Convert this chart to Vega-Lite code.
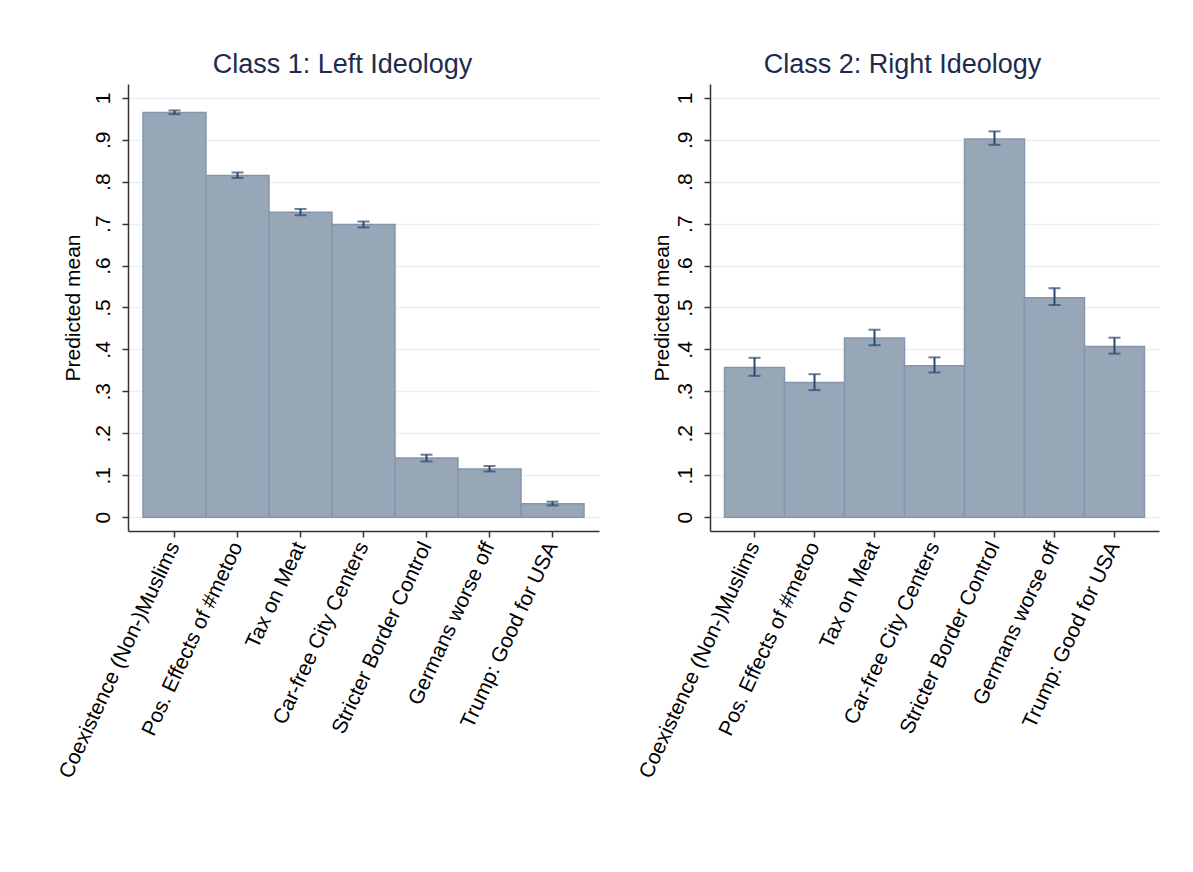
{
  "$schema": "https://vega.github.io/schema/vega-lite/v6.json",
  "background": "white",
  "padding": {"left": 55, "top": 51, "right": 30, "bottom": 20},
  "bounds": "flush",
  "spacing": 111,
  "config": {
    "font": "Liberation Sans",
    "view": {"stroke": null},
    "title": {"fontSize": 27, "fontWeight": "normal", "color": "#1e2b4f", "baseline": "alphabetic", "offset": 5},
    "axisY": {
      "values": [0, 0.1, 0.2, 0.3, 0.4, 0.5, 0.6, 0.7, 0.8, 0.9, 1],
      "labelExpr": "datum.value == 0 ? '0' : datum.value == 1 ? '1' : replace(format(datum.value, '.1f'), '0.', '.')",
      "labelAngle": -90,
      "labelAlign": "center",
      "labelBaseline": "bottom",
      "labelFontSize": 21,
      "labelColor": "#000000",
      "labelPadding": 9,
      "labelOverlap": false,
      "tickSize": 6,
      "tickColor": "#333333",
      "tickWidth": 1.5,
      "domainColor": "#333333",
      "domainWidth": 1.5,
      "grid": true,
      "gridColor": "#eaeff1",
      "gridWidth": 1.5,
      "titleFontSize": 21,
      "titleFontWeight": "normal",
      "titleColor": "#000000"
    },
    "axisX": {
      "title": null,
      "labelAngle": -65,
      "labelFontSize": 21,
      "labelColor": "#000000",
      "labelPadding": 6,
      "labelLimit": 0,
      "labelOverlap": false,
      "tickSize": 6,
      "tickColor": "#333333",
      "tickWidth": 1.5,
      "domainColor": "#333333",
      "domainWidth": 1.5,
      "grid": false
    }
  },
  "datasets": {
    "class1": [
      {"item": "Coexistence (Non-)Muslims", "mean": 0.965, "lo": 0.961, "hi": 0.970},
      {"item": "Pos. Effects of #metoo", "mean": 0.815, "lo": 0.809, "hi": 0.822},
      {"item": "Tax on Meat", "mean": 0.727, "lo": 0.720, "hi": 0.735},
      {"item": "Car-free City Centers", "mean": 0.698, "lo": 0.691, "hi": 0.705},
      {"item": "Stricter Border Control", "mean": 0.141, "lo": 0.133, "hi": 0.149},
      {"item": "Germans worse off", "mean": 0.115, "lo": 0.109, "hi": 0.122},
      {"item": "Trump: Good for USA", "mean": 0.032, "lo": 0.028, "hi": 0.037}
    ],
    "class2": [
      {"item": "Coexistence (Non-)Muslims", "mean": 0.357, "lo": 0.337, "hi": 0.380},
      {"item": "Pos. Effects of #metoo", "mean": 0.321, "lo": 0.303, "hi": 0.341},
      {"item": "Tax on Meat", "mean": 0.427, "lo": 0.410, "hi": 0.447},
      {"item": "Car-free City Centers", "mean": 0.361, "lo": 0.345, "hi": 0.381},
      {"item": "Stricter Border Control", "mean": 0.902, "lo": 0.888, "hi": 0.920},
      {"item": "Germans worse off", "mean": 0.523, "lo": 0.506, "hi": 0.546},
      {"item": "Trump: Good for USA", "mean": 0.407, "lo": 0.390, "hi": 0.428}
    ]
  },
  "hconcat": [
    {
      "width": 471,
      "height": 447,
      "title": {"text": "Class 1: Left Ideology", "dx": -21},
      "data": {"name": "class1"},
      "encoding": {
        "x": {"field": "item", "type": "nominal", "sort": null, "scale": {"paddingInner": 0, "paddingOuter": 0.238}}
      },
      "layer": [
        {
          "mark": {"type": "bar", "fill": "#98a7b7", "stroke": "#8596aa", "strokeWidth": 1.5},
          "encoding": {"y": {"field": "mean", "type": "quantitative", "title": "Predicted mean", "scale": {"domain": [-0.033, 1.033], "nice": false, "zero": false}, "axis": {"titlePadding": 9}}}
        },
        {
          "mark": {"type": "rule", "color": "#2b4870", "strokeWidth": 2},
          "encoding": {"y": {"field": "lo", "type": "quantitative", "title": "Predicted mean"}, "y2": {"field": "hi"}}
        },
        {
          "mark": {"type": "tick", "color": "#2b4870", "size": 12, "thickness": 2},
          "encoding": {"y": {"field": "lo", "type": "quantitative", "title": "Predicted mean"}}
        },
        {
          "mark": {"type": "tick", "color": "#2b4870", "size": 12, "thickness": 2},
          "encoding": {"y": {"field": "hi", "type": "quantitative", "title": "Predicted mean"}}
        }
      ]
    },
    {
      "width": 449,
      "height": 447,
      "title": {"text": "Class 2: Right Ideology", "dx": -32},
      "data": {"name": "class2"},
      "encoding": {
        "x": {"field": "item", "type": "nominal", "sort": null, "scale": {"paddingInner": 0, "paddingOuter": 0.242}}
      },
      "layer": [
        {
          "mark": {"type": "bar", "fill": "#98a7b7", "stroke": "#8596aa", "strokeWidth": 1.5},
          "encoding": {"y": {"field": "mean", "type": "quantitative", "title": "Predicted mean", "scale": {"domain": [-0.033, 1.033], "nice": false, "zero": false}, "axis": {"titlePadding": 2}}}
        },
        {
          "mark": {"type": "rule", "color": "#2b4870", "strokeWidth": 2},
          "encoding": {"y": {"field": "lo", "type": "quantitative", "title": "Predicted mean"}, "y2": {"field": "hi"}}
        },
        {
          "mark": {"type": "tick", "color": "#2b4870", "size": 12, "thickness": 2},
          "encoding": {"y": {"field": "lo", "type": "quantitative", "title": "Predicted mean"}}
        },
        {
          "mark": {"type": "tick", "color": "#2b4870", "size": 12, "thickness": 2},
          "encoding": {"y": {"field": "hi", "type": "quantitative", "title": "Predicted mean"}}
        }
      ]
    }
  ]
}
